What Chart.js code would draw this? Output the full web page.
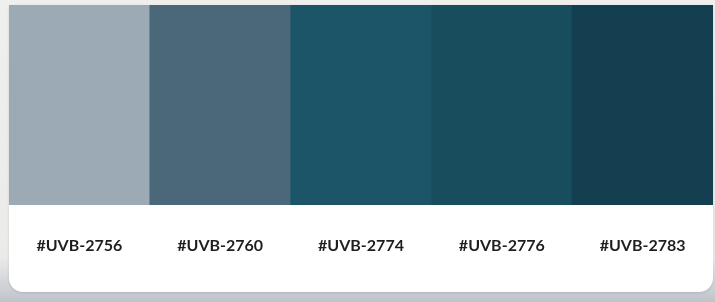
<!DOCTYPE html>
<html>
<head>
<meta charset="utf-8">
<script src="https://cdn.jsdelivr.net/npm/chart.js@4"></script>
<style>
  html, body { margin: 0; padding: 0; }
  body {
    width: 715px; height: 302px; overflow: hidden; position: relative;
    background: linear-gradient(to bottom, #efefed 0%, #ebebea 85%, #c9ccd2 97%, #bfc3ca 100%);
  }
  #card {
    position: absolute; left: 9px; top: 5px; width: 704px; height: 287px;
    background: #ffffff; border-radius: 0 0 14px 14px; overflow: hidden;
    box-shadow: 0 1px 3px rgba(0,0,0,0.12);
  }
  #paletteChart { display: block; }
</style>
</head>
<body>
<div id="card"><canvas id="paletteChart" width="704" height="287"></canvas></div>
<script>
// palette swatches
const swatchCodes = ['#UVB-2756', '#UVB-2760', '#UVB-2774', '#UVB-2776', '#UVB-2783'];
const swatchColors = ['#9baab4', '#4b687a', '#1d5568', '#174d5d', '#143f50'];
const swatchValues = [1, 1, 1, 1, 1];

document.addEventListener("DOMContentLoaded", function() {
    const ctx = document.getElementById('paletteChart').getContext('2d');

    new Chart(ctx, {
        type: 'bar',
        data: {
            labels: swatchCodes,
            datasets: [{
                data: swatchValues,
                backgroundColor: swatchColors,
                borderWidth: 0,
                barPercentage: 1,
                categoryPercentage: 1
            }]
        },
        options: {
            responsive: false,
            animation: false,
            layout: { padding: 0 },
            plugins: {
                legend: { display: false },
                tooltip: { enabled: false }
            },
            scales: {
                x: {
                    grid: { display: false, drawTicks: false },
                    border: { display: false },
                    ticks: {
                        color: '#1e1e1e',
                        padding: 31,
                        maxRotation: 0,
                        font: { family: 'Lato', size: 16, weight: 'bold' }
                    },
                    afterFit: function(scale) {
                        // swatches run edge to edge, labels never overflow
                        scale.height = 87;
                        scale.paddingLeft = 0;
                        scale.paddingRight = 0;
                    }
                },
                y: {
                    display: false,
                    min: 0,
                    max: 1
                }
            }
        }
    });
});
</script>
</body>
</html>
